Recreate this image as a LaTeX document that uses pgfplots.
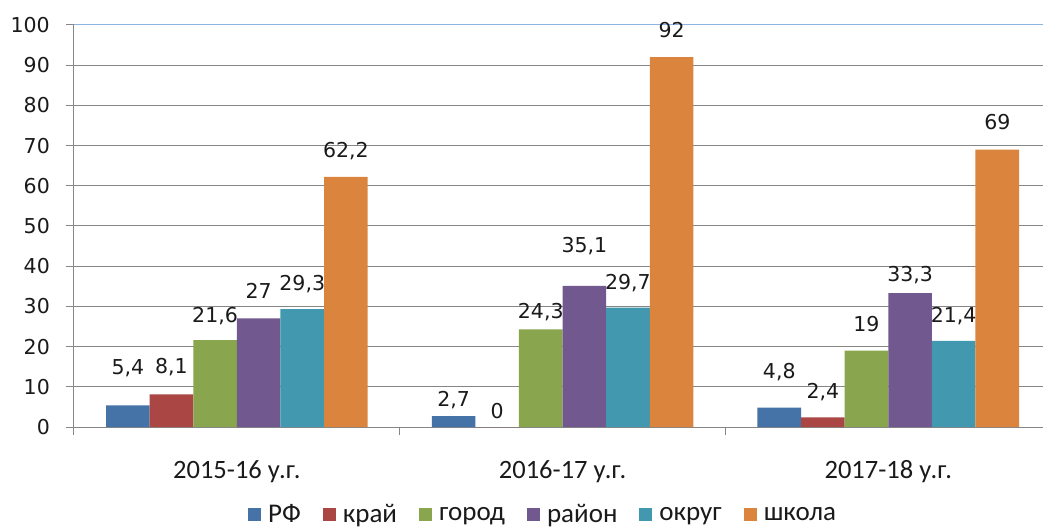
\documentclass[border=0pt]{standalone}
\usepackage{pgfplots}
\pgfplotsset{compat=1.18}
\usepackage{fontspec}
\setmainfont{DejaVu Sans}
\newfontfamily\calfont{Carlito}
\definecolor{c1}{HTML}{4572A7}
\definecolor{c2}{HTML}{AA4643}
\definecolor{c3}{HTML}{89A54E}
\definecolor{c4}{HTML}{71588F}
\definecolor{c5}{HTML}{4198AF}
\definecolor{c6}{HTML}{DB843D}
\definecolor{gridc}{HTML}{868686}
\definecolor{topc}{HTML}{8EB4E3}
\definecolor{txt}{HTML}{1A1A1A}
\begin{document}
\begin{tikzpicture}
\begin{axis}[
  scale only axis, width=969bp, height=402bp,
  xmin=-0.5, xmax=2.475, ymin=0, ymax=100,
  axis x line*=bottom, axis y line*=left,
  axis line style={gridc, line width=1bp},
  ytick={0,10,...,100},
  ymajorgrids, major grid style={gridc, line width=1bp},
  tick align=outside, major tick length=8bp,
  ytick style={gridc, line width=1bp},
  yticklabel style={font=\fontsize{20.5bp}{24bp}\selectfont, text=txt, anchor=east, inner sep=0pt, xshift=-16bp},
  /pgf/number format/assume math mode=true,
  xtick={0,1,2}, xticklabels={2015-16 у.г., 2016-17 у.г., 2017-18 у.г.},
  xtick style={draw=none},
  xticklabel style={font=\calfont\fontsize{26.5bp}{30bp}\selectfont, text=txt, anchor=base, inner sep=0pt, yshift=-43bp},
  extra x ticks={-0.5,0.5,1.5}, extra x tick labels={},
  extra x tick style={grid=none, xtick style={draw=gridc, line width=1bp}},
  ybar=0pt, bar width=43.6bp,
  nodes near coords={\pgfmathprintnumber[use comma,assume math mode=true]{\pgfplotspointmeta}},
  visualization depends on={\thisrow{dy} \as \dy},
  every node near coord/.append style={font=\fontsize{20.5bp}{24bp}\selectfont, inner sep=0pt, anchor=base, yshift=\dy bp, text=txt},
  legend columns=6,
  legend style={draw=none, fill=none, at={(0.483,-0.217)}, anchor=center,
    font=\calfont\fontsize{27bp}{30bp}\selectfont, text=txt,
    nodes={inner sep=0pt},
    /tikz/every odd column/.append style={column sep=7bp},
    /tikz/every even column/.append style={column sep=22bp}},
  legend image code/.code={\fill[#1] (0bp,-6.5bp) rectangle (13bp,6.5bp);},
]
\addplot[fill=c1, draw=none] table[row sep=\\, x=x, y=y] {x y dy\\ 0 5.4 31\\ 1 2.7 10\\ 2 4.8 29\\};
\addplot[fill=c2, draw=none] table[row sep=\\, x=x, y=y] {x y dy\\ 0 8.1 21\\ 1 0 9\\ 2 2.4 19\\};
\addplot[fill=c3, draw=none] table[row sep=\\, x=x, y=y] {x y dy\\ 0 21.6 18\\ 1 24.3 11\\ 2 19 19\\};
\addplot[fill=c4, draw=none] table[row sep=\\, x=x, y=y] {x y dy\\ 0 27 20\\ 1 35.1 33\\ 2 33.3 12\\};
\addplot[fill=c5, draw=none] table[row sep=\\, x=x, y=y] {x y dy\\ 0 29.3 19\\ 1 29.7 18\\ 2 21.4 18\\};
\addplot[fill=c6, draw=none] table[row sep=\\, x=x, y=y] {x y dy\\ 0 62.2 19\\ 1 92 20\\ 2 69 20\\};
\legend{РФ, край, город, район, округ, школа}
\draw[topc, line width=1bp] (axis cs:-0.5,100) -- (axis cs:2.475,100);
\coordinate (O) at (rel axis cs:0,0);
\end{axis}
\pgfresetboundingbox
\path[use as bounding box] ([shift={(-74bp,-102bp)}]O) rectangle ++(1043bp,529bp);
\end{tikzpicture}
\end{document}
